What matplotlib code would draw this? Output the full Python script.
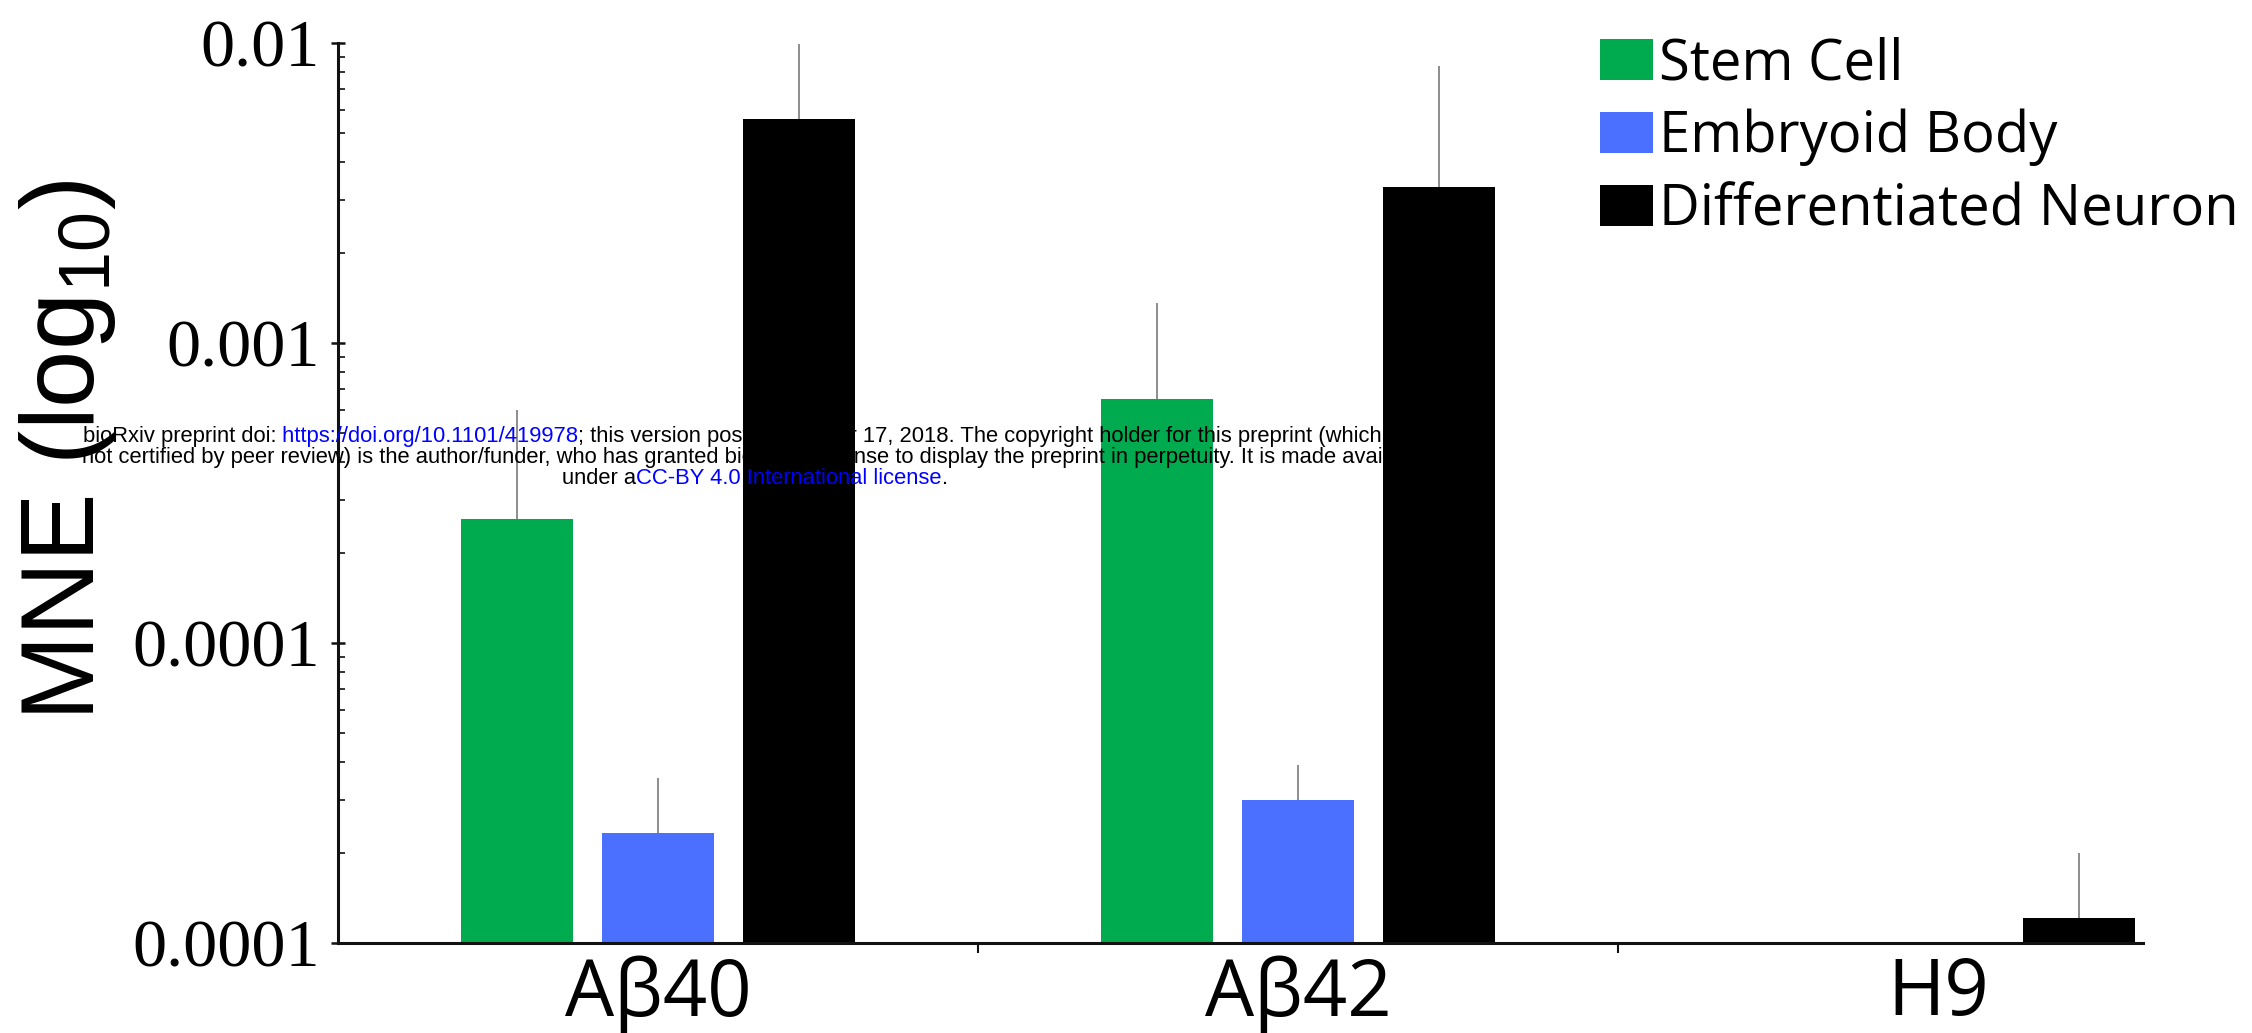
import numpy as np
import matplotlib
matplotlib.use('Agg')
import matplotlib.pyplot as plt
from matplotlib.patches import Patch
from matplotlib.offsetbox import TextArea, HPacker, VPacker, AnchoredOffsetbox
from matplotlib.ticker import FixedLocator, LogLocator, NullFormatter

# ---------------- data ----------------
categories = ['Aβ40', 'Aβ42', 'H9']
series_names = ['Stem Cell', 'Embryoid Body', 'Differentiated Neuron']
stem_cell = [2.6e-4, 6.5e-4, np.nan]
stem_cell_err = [3.4e-4, 7.1e-4, np.nan]          # upper error only
embryoid_body = [2.33e-5, 3.0e-5, np.nan]
embryoid_body_err = [1.23e-5, 0.92e-5, np.nan]
neuron = [5.6e-3, 3.3e-3, 1.21e-5]
neuron_err = [4.3e-3, 5.1e-3, 0.79e-5]
series_colors = ['#00AA4F', '#4B6FFF', '#000000']
ytick_values = [1e-5, 1e-4, 1e-3, 1e-2]
ytick_labels = ['0.0001', '0.0001', '0.001', '0.01']

plt.rcParams['mathtext.default'] = 'regular'

W, H = 2252, 1033
fig = plt.figure(figsize=(W / 100, H / 100), dpi=100)
ax = fig.add_axes([338 / W, 1 - 943 / H, (2143 - 338) / W, (943 - 43) / H])

x = np.arange(len(categories))
offsets = [-0.22, 0.0, 0.22]
width = 0.175
values = [stem_cell, embryoid_body, neuron]
errors = [stem_cell_err, embryoid_body_err, neuron_err]

for vals, errs, off, col in zip(values, errors, offsets, series_colors):
    vals = np.asarray(vals, float)
    errs = np.asarray(errs, float)
    m = np.isfinite(vals)
    ax.bar(x[m] + off, vals[m], width=width, color=col, bottom=0, zorder=2,
           linewidth=0)
    ax.errorbar(x[m] + off, vals[m], yerr=[np.zeros(m.sum()), errs[m]],
                fmt='none', ecolor='#7a7a7a', elinewidth=1.2, capsize=0,
                zorder=1)

ax.set_yscale('log')
ax.set_ylim(1e-5, 1e-2)
ax.set_xlim(-0.5, 2.32)

for s in ['top', 'right']:
    ax.spines[s].set_visible(False)
for s in ['left', 'bottom']:
    ax.spines[s].set_linewidth(2.2)
    ax.spines[s].set_color('#111111')

serif = ['Liberation Serif', 'DejaVu Serif']
sans = ['Open Sans', 'DejaVu Sans']

ax.yaxis.set_major_locator(FixedLocator(ytick_values))
ax.set_yticklabels(ytick_labels, fontsize=49, family=serif)
ax.yaxis.set_minor_locator(LogLocator(base=10, subs=np.arange(2, 10)))
ax.yaxis.set_minor_formatter(NullFormatter())
ax.tick_params(axis='y', which='major', direction='inout', length=10,
               width=1.8, pad=8, color='#111111')
ax.tick_params(axis='y', which='minor', direction='in', length=5,
               width=1.2, color='#111111')

ax.set_xticks([0.5, 1.5])
ax.set_xticklabels([])
ax.set_xticks(x, minor=True)
ax.set_xticklabels(categories, minor=True, fontsize=56, family=sans)
ax.tick_params(axis='x', which='major', direction='out', length=7,
               width=1.5, color='#111111')
ax.tick_params(axis='x', which='minor', length=0, pad=9)

fig.text(68 / W, 1 - 450 / H, 'MNE (log$_{10}$)', rotation=90, ha='center',
         va='center', fontsize=74, family=['Liberation Sans', 'DejaVu Sans'])

handles = [Patch(facecolor=c, edgecolor='none') for c in series_colors]
fig.legend(handles, series_names, loc='upper left',
           bbox_to_anchor=(1600 / W, 1 - 36 / H), frameon=False,
           prop=dict(family=sans, size=40.5), handlelength=0.95,
           handleheight=0.75, handletextpad=0.1, labelspacing=0.28,
           borderpad=0, borderaxespad=0)

# watermark
wm = dict(fontsize=15.8, family=['Liberation Sans', 'DejaVu Sans'])


def ta(s, c):
    return TextArea(s, textprops=dict(color=c, **wm))


line1 = HPacker(children=[ta('bioRxiv preprint doi:', 'black'),
                          ta(' https://doi.org/10.1101/419978', 'blue'),
                          ta('; this version posted October 17, 2018. The copyright holder for this preprint (which was', 'black')],
                sep=0, pad=0, align='baseline')
line2 = HPacker(children=[ta('not certified by peer review) is the author/funder, who has granted bioRxiv a license to display the preprint in perpetuity. It is made available', 'black')],
                sep=0, pad=0, align='baseline')
line3 = HPacker(children=[ta('under a', 'black'),
                          ta('CC-BY 4.0 International license', 'blue'),
                          ta('.', 'black')],
                sep=0, pad=0, align='baseline')
block = VPacker(children=[line1, line2, line3], sep=0, pad=0, align='center')
ab = AnchoredOffsetbox(loc='center', child=block, pad=0, borderpad=0,
                       frameon=False, bbox_to_anchor=(755 / W, 1 - 457 / H),
                       bbox_transform=fig.transFigure)
ab.set_zorder(10)
fig.add_artist(ab)

fig.savefig('out.png', dpi=100, facecolor='white')
